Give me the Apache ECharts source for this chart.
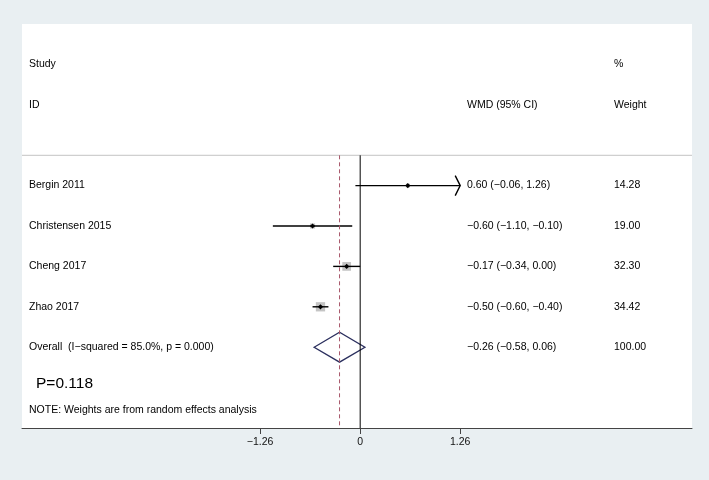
<!DOCTYPE html>
<html>
<head>
<meta charset="utf-8">
<script src="https://cdn.jsdelivr.net/npm/echarts@6/dist/echarts.min.js"></script>
<style>
html, body { margin: 0; padding: 0; background: #e9eff2; }
#chart { width: 709px; height: 480px; }
</style>
</head>
<body>
<div id="chart"></div>
<script>
// study rows
var studies = ['Bergin 2011', 'Christensen 2015', 'Cheng 2017', 'Zhao 2017'];
var wmd = [0.60, -0.60, -0.17, -0.50];
var ciLow = [-0.06, -1.10, -0.34, -0.60];
var ciHigh = [1.26, -0.10, 0.00, -0.40];
var weights = [14.28, 19.00, 32.30, 34.42];

// pooled estimate
var overallLabel = 'Overall  (I\u2212squared = 85.0%, p = 0.000)';
var overallEst = -0.26;
var overallLow = -0.58;
var overallHigh = 0.06;
var overallWeight = 100.00;

var tickValues = [-1.26, 0, 1.26];
var pText = 'P=0.118';
var noteText = 'NOTE: Weights are from random effects analysis';

var FONT = '"Liberation Sans", Arial, sans-serif';

function fmt(v) {
    var s = Math.abs(v).toFixed(2);
    return (v < 0 ? '\u2212' : '') + s;
}
function ciText(e, l, h) {
    return fmt(e) + ' (' + fmt(l) + ', ' + fmt(h) + ')';
}

// table text rows: [row, study text, estimate text, weight text]
var tableRows = [[-3, 'Study', '', '%'], [-2, 'ID', 'WMD (95% CI)', 'Weight']];
studies.forEach(function(s, i) {
    tableRows.push([i, s, ciText(wmd[i], ciLow[i], ciHigh[i]), weights[i].toFixed(2)]);
});
tableRows.push([studies.length, overallLabel, ciText(overallEst, overallLow, overallHigh), overallWeight.toFixed(2)]);

var overallRow = studies.length;
var sepRow = -0.75;
var xMin = -4.26, xMax = 4.18;

var myChart = echarts.init(document.getElementById('chart'));

var option = {
    backgroundColor: '#e9eff2',
    animation: false,
    grid: {
        left: 22, right: 17, top: 24, bottom: 52,
        show: true, backgroundColor: '#ffffff', borderWidth: 0
    },
    xAxis: {
        type: 'value',
        min: xMin,
        max: xMax,
        splitLine: { show: false },
        axisLine: { show: true, onZero: false, lineStyle: { color: '#444', width: 1 } },
        axisTick: { show: true, length: 6, lineStyle: { color: '#444' }, customValues: tickValues },
        axisLabel: {
            customValues: tickValues,
            formatter: function(v) { return v === 0 ? '0' : fmt(v); },
            fontFamily: FONT, fontSize: 10.5, color: '#111', margin: 9
        }
    },
    yAxis: {
        type: 'value',
        min: -4,
        max: 6,
        inverse: true,
        show: false
    },
    series: [
        {
            // separator under header
            type: 'line',
            data: [[xMin, sepRow], [xMax, sepRow]],
            symbol: 'none',
            lineStyle: { color: '#c4c4c4', width: 1 },
            silent: true
        },
        {
            // no-effect line
            type: 'line',
            data: [[0, sepRow], [0, 6]],
            symbol: 'none',
            lineStyle: { color: '#000', width: 1 },
            silent: true
        },
        {
            // overall estimate line
            type: 'line',
            data: [[overallEst, sepRow], [overallEst, 6]],
            symbol: 'none',
            lineStyle: { color: '#a8566a', width: 1, type: [4, 3] },
            silent: true
        },
        {
            type: 'custom',
            data: studies.map(function(s, i) { return [wmd[i], ciLow[i], ciHigh[i], weights[i], i]; }),
            encode: { x: [0, 1, 2], y: 4 },
            renderItem: function(params, api) {
                var est = api.value(0), lo = api.value(1), hi = api.value(2), w = api.value(3), row = api.value(4);
                var limit = tickValues[tickValues.length - 1];
                var pc = api.coord([est, row]);
                var p0 = api.coord([lo, row]);
                var p1 = api.coord([Math.min(hi, limit), row]);
                var side = w * 0.27;
                var d = 2.6;
                var children = [
                    { type: 'rect', shape: { x: pc[0] - side / 2, y: pc[1] - side / 2, width: side, height: side }, style: { fill: '#c4c4c4' } },
                    { type: 'line', shape: { x1: p0[0], y1: p0[1], x2: p1[0], y2: p1[1] }, style: { stroke: '#000', lineWidth: 1.4 } },
                    { type: 'polygon', shape: { points: [[pc[0] - d, pc[1]], [pc[0], pc[1] - d], [pc[0] + d, pc[1]], [pc[0], pc[1] + d]] }, style: { fill: '#000' } }
                ];
                if (hi >= limit) {
                    children.push({
                        type: 'polyline',
                        shape: { points: [[p1[0] - 5, p1[1] - 10], [p1[0], p1[1]], [p1[0] - 5, p1[1] + 10]] },
                        style: { stroke: '#000', lineWidth: 1.4, fill: null }
                    });
                }
                return { type: 'group', children: children };
            }
        },
        {
            type: 'custom',
            data: [[overallEst, overallLow, overallHigh, overallRow]],
            encode: { x: [0, 1, 2], y: 3 },
            renderItem: function(params, api) {
                var est = api.value(0), lo = api.value(1), hi = api.value(2), row = api.value(3);
                var h = 0.37;
                var pts = [api.coord([lo, row]), api.coord([est, row - h]), api.coord([hi, row]), api.coord([est, row + h])];
                return {
                    type: 'polygon',
                    shape: { points: pts },
                    style: { fill: null, stroke: '#2b2f5e', lineWidth: 1.3 }
                };
            }
        },
        {
            // table text
            type: 'custom',
            data: tableRows.map(function(r) { return [0, r[0]]; }),
            encode: { x: 0, y: 1 },
            clip: false,
            renderItem: function(params, api) {
                var r = tableRows[params.dataIndex];
                var y = api.coord([0, api.value(1)])[1];
                var base = { fontFamily: FONT, fontSize: 10.5, fill: '#000', verticalAlign: 'middle', align: 'left' };
                return {
                    type: 'group',
                    children: [
                        { type: 'text', x: 29, y: y, style: Object.assign({ text: r[1] }, base) },
                        { type: 'text', x: 467, y: y, style: Object.assign({ text: r[2] }, base) },
                        { type: 'text', x: 614, y: y, style: Object.assign({ text: r[3] }, base) }
                    ]
                };
            }
        },
        {
            // footer text
            type: 'custom',
            data: [[0, 4.9, 0], [0, 5.55, 1]],
            encode: { x: 0, y: 1 },
            clip: false,
            renderItem: function(params, api) {
                var y = api.coord([0, api.value(1)])[1];
                var big = api.value(2) === 0;
                return {
                    type: 'text', x: big ? 36 : 29, y: y,
                    style: {
                        text: big ? pText : noteText,
                        fontFamily: FONT,
                        fontSize: big ? 15.5 : 10.5,
                        fill: '#000', verticalAlign: 'middle', align: 'left'
                    }
                };
            }
        }
    ]
};

myChart.setOption(option);
</script>
</body>
</html>
